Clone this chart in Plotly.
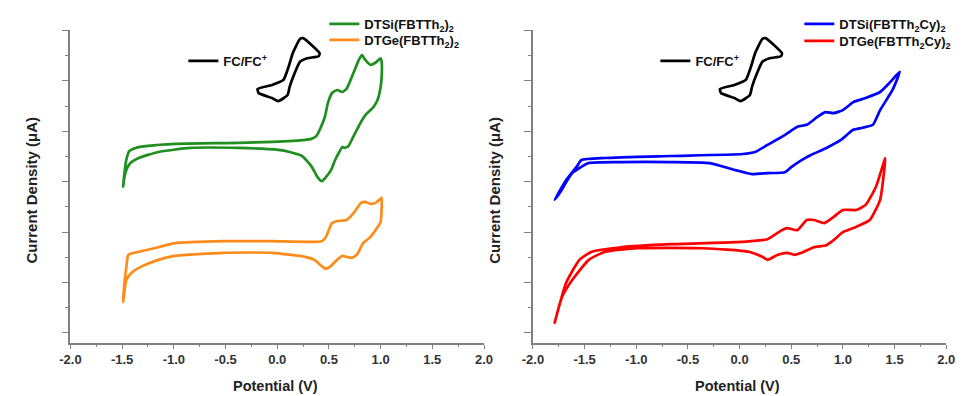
import plotly.graph_objects as go

# ---------------- data (potential in V, current density in arbitrary µA units) ----------------
# Ferrocene reference loop (same on both panels)
fc_v = [-0.19, -0.05, 0.06, 0.11, 0.15, 0.22, 0.25, 0.41, 0.40, 0.29, 0.22, 0.17, 0.12, 0.10, 0.01, -0.05, -0.18, -0.19]
fc_i = [5.04, 5.12, 5.22, 5.48, 5.75, 6.03, 6.05, 5.75, 5.69, 5.65, 5.58, 5.36, 5.08, 4.92, 4.80, 4.86, 4.96, 5.04]

# DTSi(FBTTh2)2
dtsi_v = [-1.49, -1.48, -1.46, -1.43, -1.37, -1.25, -0.99, -0.37, -0.05, 0.27, 0.33, 0.38, 0.42, 0.46, 0.49, 0.53,
          0.58, 0.63, 0.67, 0.71, 0.75, 0.79, 0.82, 0.85, 0.90, 0.95, 1.00,
          1.01, 1.01, 1.00, 0.97, 0.93, 0.86, 0.82, 0.77, 0.73, 0.69, 0.65, 0.63, 0.60, 0.56, 0.52, 0.47, 0.43,
          0.39, 0.33, 0.24, 0.12, 0.01, -0.37, -0.84, -1.15, -1.34, -1.42, -1.46, -1.48, -1.49]
dtsi_i = [3.10, 3.33, 3.63, 3.81, 3.87, 3.91, 3.95, 3.97, 3.99, 4.03, 4.05, 4.11, 4.27, 4.48, 4.76, 4.96,
          5.02, 4.98, 5.04, 5.22, 5.42, 5.62, 5.71, 5.62, 5.52, 5.56, 5.65,
          5.58, 5.28, 5.08, 4.82, 4.68, 4.54, 4.42, 4.23, 4.07, 3.91, 3.87, 3.89, 3.79, 3.63, 3.43, 3.29, 3.21,
          3.29, 3.51, 3.71, 3.79, 3.83, 3.87, 3.87, 3.79, 3.67, 3.57, 3.43, 3.27, 3.10]

# DTGe(FBTTh2)2
dtge_v = [-1.49, -1.48, -1.46, -1.44, -1.34, -1.15, -0.99, -0.52, -0.05, 0.43, 0.47, 0.53, 0.58, 0.67, 0.74,
          0.81, 0.85, 0.90, 0.95, 1.00, 1.01,
          1.01, 1.00, 0.90, 0.83, 0.77, 0.72, 0.67, 0.63, 0.58, 0.52, 0.47, 0.44, 0.36, 0.27, -0.05, -0.52,
          -0.99, -1.15, -1.32, -1.41, -1.46, -1.49]
dtge_i = [0.81, 1.15, 1.49, 1.75, 1.81, 1.90, 1.98, 2.02, 2.02, 2.02, 2.10, 2.38, 2.42, 2.44, 2.58,
          2.78, 2.80, 2.76, 2.78, 2.86, 2.88,
          2.70, 2.40, 2.10, 1.98, 1.75, 1.69, 1.71, 1.73, 1.65, 1.53, 1.47, 1.51, 1.65, 1.71, 1.79, 1.79,
          1.73, 1.65, 1.51, 1.39, 1.25, 0.81]

# DTSi(FBTTh2Cy)2
dtsicy_v = [-1.79, -1.68, -1.58, -1.53, -1.30, -0.67, 0.03, 0.15, 0.27, 0.44, 0.56, 0.65, 0.75, 0.83, 0.91,
            1.00, 1.10, 1.22, 1.36, 1.45, 1.55,
            1.48, 1.36, 1.29, 1.19, 1.10, 0.98, 0.84, 0.69, 0.60, 0.50, 0.44, 0.27, 0.12, -0.04, -0.29,
            -0.67, -1.15, -1.46, -1.62, -1.74, -1.79]
dtsicy_i = [2.84, 3.23, 3.49, 3.63, 3.67, 3.71, 3.75, 3.79, 3.93, 4.13, 4.29, 4.33, 4.48, 4.58, 4.56,
            4.62, 4.78, 4.86, 4.98, 5.16, 5.38,
            5.02, 4.62, 4.33, 4.27, 4.23, 4.03, 3.87, 3.73, 3.63, 3.49, 3.39, 3.37, 3.35, 3.43, 3.57,
            3.59, 3.59, 3.57, 3.37, 2.98, 2.84]

# DTGe(FBTTh2Cy)2
dtgecy_v = [-1.79, -1.68, -1.55, -1.43, -1.15, -0.67, -0.04, 0.27, 0.41, 0.46, 0.56, 0.65, 0.72, 0.82,
            0.91, 1.00, 1.13, 1.22, 1.32, 1.41,
            1.40, 1.36, 1.26, 1.10, 1.00, 0.91, 0.84, 0.72, 0.60, 0.53, 0.46, 0.37, 0.27, 0.22, 0.09,
            -0.35, -0.99, -1.30, -1.46, -1.62, -1.72, -1.79]
dtgecy_i = [0.40, 1.19, 1.65, 1.81, 1.90, 1.96, 2.00, 2.06, 2.24, 2.28, 2.24, 2.44, 2.44, 2.38,
            2.50, 2.64, 2.64, 2.74, 3.10, 3.67,
            3.43, 2.84, 2.44, 2.28, 2.20, 2.04, 1.94, 1.90, 1.79, 1.75, 1.79, 1.75, 1.65, 1.71, 1.81,
            1.88, 1.88, 1.81, 1.65, 1.25, 0.91, 0.40]

x_ticks = [-2.0, -1.5, -1.0, -0.5, 0.0, 0.5, 1.0, 1.5, 2.0]
x_ticktext = ["-2.0", "-1.5", "-1.0", "-0.5", "0.0", "0.5", "1.0", "1.5", "2.0"]

left_names = ["DTSi(FBTTh<sub>2</sub>)<sub>2</sub>", "DTGe(FBTTh<sub>2</sub>)<sub>2</sub>"]
right_names = ["DTSi(FBTTh<sub>2</sub>Cy)<sub>2</sub>", "DTGe(FBTTh<sub>2</sub>Cy)<sub>2</sub>"]
fc_name = "FC/FC<sup>+</sup>"
x_title = "Potential (V)"
y_title = "Current Density (\u03bcA)"

# ---------------- styling ----------------
W, H = 966, 396
FONT = "Liberation Sans, Arial, sans-serif"
LW = 2.7
SMOOTH = dict(shape="spline", smoothing=0.5)

fig = go.Figure()

def add(x, y, name, color, xa, ya, legend):
    fig.add_trace(go.Scatter(x=x, y=y, mode="lines", name=name, legend=legend,
                             line=dict(color=color, width=LW, **SMOOTH),
                             xaxis=xa, yaxis=ya, hoverinfo="skip"))

add(dtsi_v, dtsi_i, left_names[0], "#1f8f1f", "x", "y", "legend")
add(dtge_v, dtge_i, left_names[1], "#ff8c1a", "x", "y", "legend2")
add(fc_v, fc_i, fc_name, "#000000", "x", "y", "legend3")
add(dtsicy_v, dtsicy_i, right_names[0], "#0000ff", "x2", "y2", "legend4")
add(dtgecy_v, dtgecy_i, right_names[1], "#ff0000", "x2", "y2", "legend5")
add(fc_v, fc_i, fc_name, "#000000", "x2", "y2", "legend6")

AX_COLOR = "#808080"
tickfont = dict(family=FONT, size=13, color="#333333", weight="bold")

def xaxis(domain, anchor):
    return dict(domain=domain, anchor=anchor, range=[-2.0, 2.0], showgrid=False, zeroline=False,
                showline=True, linecolor=AX_COLOR, linewidth=1.5,
                tickmode="array", tickvals=x_ticks, ticktext=x_ticktext,
                ticks="outside", ticklen=4, tickwidth=1.2, tickcolor=AX_COLOR, tickfont=tickfont,
                minor=dict(ticks="outside", ticklen=2.5, tickwidth=1.2, tickcolor=AX_COLOR,
                           tickvals=[-1.75, -1.25, -0.75, -0.25, 0.25, 0.75, 1.25, 1.75]),
                fixedrange=True)

def yaxis(anchor):
    return dict(domain=[1 - 343 / H, 1 - 30 / H], anchor=anchor, range=[0, 6.21], showgrid=False,
                zeroline=False, showline=True, linecolor=AX_COLOR, linewidth=1.5,
                showticklabels=False, ticks="outside", ticklen=7, tickwidth=1.2, tickcolor=AX_COLOR,
                tick0=0.2, dtick=1,
                minor=dict(ticks="outside", ticklen=3.5, tickwidth=1.2, tickcolor=AX_COLOR,
                           tick0=0.2, dtick=0.5),
                fixedrange=True)

legfont = dict(family=FONT, size=13, color="#111111", weight="bold")

def leg(xpx, ypx):
    return dict(x=xpx / W, y=1 - ypx / H, xanchor="left", yanchor="top", bgcolor="rgba(0,0,0,0)",
                font=legfont, borderwidth=0, itemclick=False, itemdoubleclick=False)

fig.update_layout(
    width=W, height=H, margin=dict(l=0, r=0, t=0, b=0),
    paper_bgcolor="white", plot_bgcolor="white",
    xaxis=xaxis([60.7 / W, 483 / W], "y"),
    yaxis=yaxis("x"),
    xaxis2=xaxis([533 / W, 955 / W], "y2"),
    yaxis2=yaxis("x2"),
    legend=leg(320, 9),
    legend2=leg(320, 25),
    legend3=leg(176, 46),
    legend4=leg(805, 9),
    legend5=leg(805, 26),
    legend6=leg(658, 46),
    showlegend=True,
)

titlefont = dict(family=FONT, size=14.5, color="#222222", weight="bold")
for xc in [270, 742]:
    fig.add_annotation(x=xc / W, y=1 - 386 / H, xref="paper", yref="paper", text=x_title,
                       showarrow=False, xanchor="center", yanchor="middle", font=titlefont)
for xc in [20, 493]:
    fig.add_annotation(x=xc / W, y=1 - 190 / H, xref="paper", yref="paper", text=y_title,
                       showarrow=False, xanchor="center", yanchor="middle", textangle=-90,
                       font=dict(family=FONT, size=15, color="#222222", weight="bold"))

fig.write_html("out.html")
